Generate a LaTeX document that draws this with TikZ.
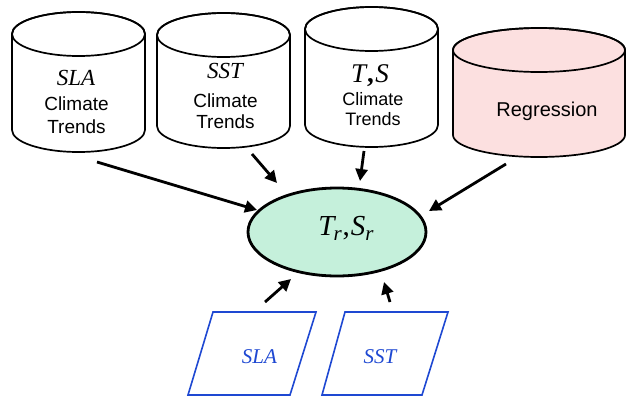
\documentclass[tikz,border=0pt]{standalone}
\usepackage{fontspec}
\setmainfont{Liberation Serif}
\setsansfont{Liberation Sans}
\usetikzlibrary{shapes.geometric,arrows.meta}

\definecolor{dbpink}{RGB}{252,224,224}
\definecolor{mint}{RGB}{197,240,219}
\definecolor{obsblue}{RGB}{30,72,210}

% database cylinder: centre x, top y, bottom y, x radius, y radius, fill (y grows downwards, given positive)
\newcommand\dbcyl[6]{%
  \filldraw[cylline, fill=#6] (#1-#4,-#2-#5) -- (#1-#4,-#3+#5)
    arc[start angle=180, end angle=360, x radius=#4, y radius=#5]
    -- (#1+#4,-#2-#5)
    arc[start angle=0, end angle=180, x radius=#4, y radius=#5] -- cycle;
  \draw[cylline] (#1,-#2-#5) ellipse[x radius=#4, y radius=#5];
}

\tikzset{
  cylline/.style={line width=1.7pt, draw=black},
  dbtext/.style={font=\sffamily\fontsize{19}{23}\selectfont, anchor=base, inner sep=0pt},
  vartext/.style={font=\rmfamily\itshape\fontsize{23}{26}\selectfont, anchor=base, inner sep=0pt},
  arr/.style={line width=2.8pt, -{Triangle[length=12pt,width=12pt]}},
  obs/.style={draw=obsblue, line width=1.6pt},
  obstext/.style={text=obsblue, font=\rmfamily\itshape\fontsize{21}{24}\selectfont, anchor=base, inner sep=0pt},
}

\begin{document}
\begin{tikzpicture}[x=1pt,y=1pt]
\useasboundingbox (0,0) rectangle (627,-397);

% data stores
\dbcyl{78.5}{12}{152}{66.5}{22}{white}
\dbcyl{223.5}{13}{148}{66.5}{22}{white}
\dbcyl{371.5}{7}{147}{66.5}{22}{white}
\dbcyl{539}{28}{157}{86}{22}{dbpink}

\node[vartext] (slaVar) at (76,-85) {SLA};
\node[dbtext] (slaC) at (76.5,-110) {Climate};
\node[dbtext] (slaT) at (76.5,-133) {Trends};

\node[vartext] (sstVar) at (225,-78) {SST};
\node[dbtext] (sstC) at (225.5,-107) {Climate};
\node[dbtext] (sstT) at (225.5,-128) {Trends};

\node[vartext, font=\rmfamily\itshape\fontsize{27}{30}\selectfont] (tsVar) at (370,-82) {T\kern1pt{\upshape\bfseries,}\kern1.5ptS};
\node[dbtext, font=\sffamily\fontsize{18}{22}\selectfont] (tsC) at (373,-105) {Climate};
\node[dbtext, font=\sffamily\fontsize{18}{22}\selectfont] (tsT) at (373,-125) {Trends};

\node[dbtext, font=\sffamily\fontsize{20}{24}\selectfont] (regDB) at (547,-116) {Regression};

% reconstructed fields
\node[ellipse, draw, line width=2.8pt, fill=mint, minimum width=178pt, minimum height=88pt, inner sep=0pt]
  (trsr) at (337,-232) {};
\node[anchor=base, inner sep=0pt, font=\rmfamily\itshape\fontsize{29}{30}\selectfont] (trsrText) at (346,-235)
  {T\kern-1pt\raisebox{-0.2em}{\fontsize{21}{21}\selectfont r}\kern1pt{\upshape,}\kern1ptS\raisebox{-0.2em}{\fontsize{21}{21}\selectfont r}};

% observations
\draw[obs] (188,-395) -- (213,-312) -- (316,-312) -- (290,-395) -- cycle;
\draw[obs] (322,-395) -- (345,-312) -- (448,-312) -- (422,-395) -- cycle;
\node[obstext] (slaObs) at (259.5,-363) {SLA};
\node[obstext] (sstObs) at (380,-363) {SST};

% connectors
\coordinate (t1) at (97,-162);  \coordinate (h1) at (257,-210);
\coordinate (t2) at (252,-154); \coordinate (h2) at (277,-183);
\coordinate (t3) at (364,-151); \coordinate (h3) at (360,-181);
\coordinate (t4) at (506,-164); \coordinate (h4) at (429,-211);
\coordinate (t5) at (265,-302); \coordinate (h5) at (291,-279);
\coordinate (t6) at (390,-302); \coordinate (h6) at (384,-282);
\foreach \i in {1,...,6} \draw[arr] (t\i) -- (h\i);
\end{tikzpicture}
\end{document}
